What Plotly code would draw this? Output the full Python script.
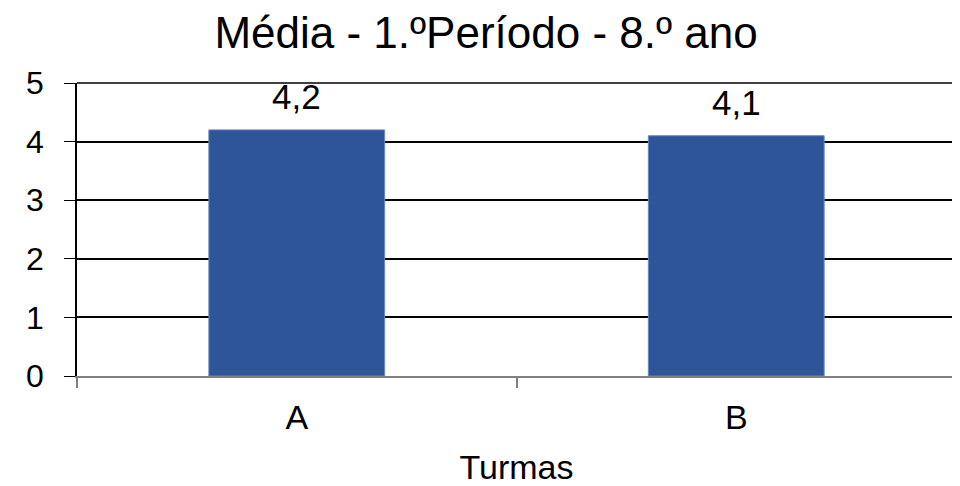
import plotly.graph_objects as go

# turmas e médias do 1.º período
turmas = ["A", "B"]
medias = [4.2, 4.1]
y_ticks = [0, 1, 2, 3, 4, 5]

fonte = "Liberation Sans, Arial, sans-serif"

fig = go.Figure(go.Bar(
    x=turmas,
    y=medias,
    width=0.4,
    marker=dict(color="#2E5597", line=dict(color="#6A87BE", width=1)),
))

# rótulos dos valores acima das barras (vírgula decimal)
for t, v in zip(turmas, medias):
    fig.add_annotation(x=t, y=v, text=f"{v:.1f}".replace(".", ","),
                       showarrow=False, yanchor="bottom", yshift=12,
                       font=dict(size=35, color="black", family=fonte))

# linha do topo (5) e borda direita da área do gráfico
fig.add_shape(type="line", xref="paper", yref="paper", x0=0, x1=1, y0=1, y1=1,
              line=dict(color="black", width=1.5))
fig.add_shape(type="line", xref="paper", yref="paper", x0=1, x1=1, y0=0, y1=1,
              line=dict(color="#808080", width=2))

fig.update_layout(
    width=960, height=486,
    margin=dict(l=69, r=12, t=75, b=118),
    paper_bgcolor="white", plot_bgcolor="white",
    font=dict(family=fonte, color="black"),
    showlegend=False,
    title=dict(text="Média - 1.ºPeríodo - 8.º ano", x=0.498, xanchor="center",
               y=1 - 25 / 486, yanchor="middle", font=dict(size=44), automargin=False),
    xaxis=dict(type="category", tickson="boundaries", ticks="outside", ticklen=10,
               tickcolor="#808080", tickwidth=2, showline=True, linecolor="#808080",
               linewidth=2, showgrid=False, tickfont=dict(size=34),
               ticklabelstandoff=10, automargin=False,
               title=dict(text="Turmas", font=dict(size=34), standoff=20)),
    yaxis=dict(range=[0, 5], tickvals=y_ticks, ticks="outside", ticklen=11,
               tickcolor="black", tickwidth=1, showline=True, linecolor="black",
               linewidth=1.5, showgrid=True, gridcolor="black", gridwidth=1.5,
               zeroline=False, tickfont=dict(size=32), ticklabelstandoff=14,
               automargin=False),
)

fig.write_html("out.html")
